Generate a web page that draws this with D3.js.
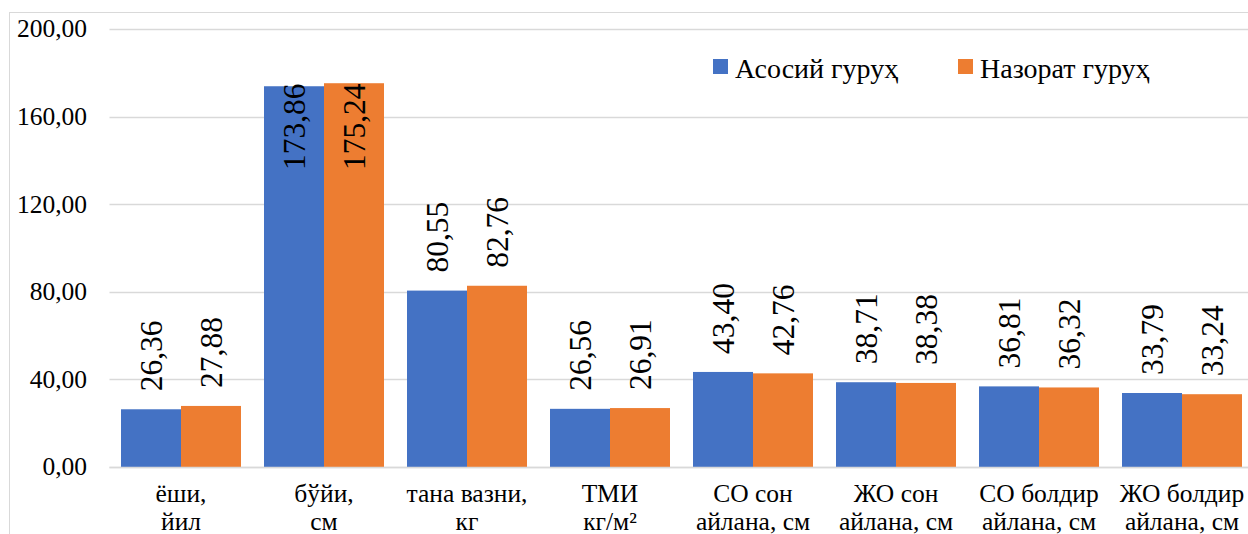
<!DOCTYPE html>
<html><head><meta charset="utf-8">
<script src="https://cdn.jsdelivr.net/npm/d3@7"></script>
<style>html,body{margin:0;padding:0;background:#fff;}svg{display:block;}</style>
</head><body>
<svg id="chart" width="1248" height="534"></svg>
<script>
const categories = [["ёши,","йил"],["бўйи,","см"],["тана вазни,","кг"],["ТМИ","кг/м²"],["СО сон","айлана, см"],["ЖО сон","айлана, см"],["СО болдир","айлана, см"],["ЖО болдир","айлана, см"]];
const seriesNames = ["Асосий гуруҳ","Назорат гуруҳ"];
const asosiy = [26.36,173.86,80.55,26.56,43.40,38.71,36.81,33.79];
const nazorat = [27.88,175.24,82.76,26.91,42.76,38.38,36.32,33.24];
const yTicks = [0,40,80,120,160,200];
const colors = ["#4472C4","#ED7D31"];

const FONT = '"Liberation Serif"';
const svg = d3.select("#chart");
const plot = {left:109.5, right:1253.5, top:29, bottom:467};
const fmt = v => v.toFixed(2).replace(".", ",");

// chart border
svg.append("rect").attr("x",9.5).attr("y",12.5).attr("width",1300).attr("height",600)
  .attr("fill","none").attr("stroke","#d9d9d9").attr("stroke-width",1);

const x = d3.scaleBand().domain(d3.range(categories.length)).range([plot.left, plot.right]).paddingInner(23/143).paddingOuter(23/143/2);
const x1 = d3.scaleBand().domain([0,1]).range([0, x.bandwidth()]);
const y = d3.scaleLinear().domain([0,200]).range([plot.bottom, plot.top]);

// gridlines
svg.append("g").selectAll("line").data(yTicks).join("line")
  .attr("x1",plot.left).attr("x2",plot.right)
  .attr("y1",d=>Math.round(y(d))+0.5).attr("y2",d=>Math.round(y(d))+0.5)
  .attr("stroke","#d9d9d9").attr("stroke-width",1.5);

// y tick labels
svg.append("g").selectAll("text").data(yTicks).join("text")
  .style("font-family",FONT).style("font-size","25.5px")
  .attr("x",87).attr("y",d=>y(d)).attr("dy","0.33em").attr("text-anchor","end")
  .attr("fill","#000")
  .text(d=>fmt(d));

const series = [asosiy, nazorat];
const data = [];
series.forEach((vals,s)=>vals.forEach((v,i)=>data.push({s,i,v})));

// bars
svg.append("g").selectAll("rect").data(data).join("rect")
  .attr("x",d=>x(d.i)+x1(d.s)).attr("width",x1.bandwidth())
  .attr("y",d=>y(d.v)).attr("height",d=>y(0)-y(d.v))
  .attr("fill",d=>colors[d.s]);

// baseline
svg.append("line").attr("x1",plot.left).attr("x2",plot.right).attr("y1",467.5).attr("y2",467.5)
  .attr("stroke","#d9d9d9").attr("stroke-width",1.5);

// data labels (rotated)
const insideLimit = 135.6;
svg.append("g").selectAll("text").data(data).join("text")
  .style("font-family",FONT).style("font-size","31.5px")
  .attr("transform",d=>{
    const cx = x(d.i)+x1(d.s)+x1.bandwidth()/2;
    let yb = y(d.v) - 18;
    if (yb - 88 < 12) yb = y(insideLimit);
    return `translate(${cx},${yb}) rotate(-90)`;
  })
  .attr("dy","0.35em").attr("text-anchor","start")
  .attr("fill","#000")
  .text(d=>fmt(d.v));

// x axis labels
const xl = svg.append("g").selectAll("text").data(categories).join("text")
  .style("font-family",FONT).style("font-size","25.5px")
  .attr("text-anchor","middle").attr("fill","#000");
xl.each(function(d,i){
  const t = d3.select(this);
  const cx = x(i)+x.bandwidth()/2;
  t.append("tspan").attr("x",cx).attr("y",502).text(d[0]);
  t.append("tspan").attr("x",cx).attr("y",529.5).text(d[1]);
});

// legend
const leg = [{x:713,name:seriesNames[0],c:colors[0]},{x:958,name:seriesNames[1],c:colors[1]}];
const lg = svg.append("g");
leg.forEach(l=>{
  lg.append("rect").attr("x",l.x).attr("y",59).attr("width",15).attr("height",15).attr("fill",l.c);
  lg.append("text").style("font-family",FONT).style("font-size","28px")
    .attr("x",l.x+22).attr("y",78).attr("fill","#000").text(l.name);
});
</script>
</body></html>
